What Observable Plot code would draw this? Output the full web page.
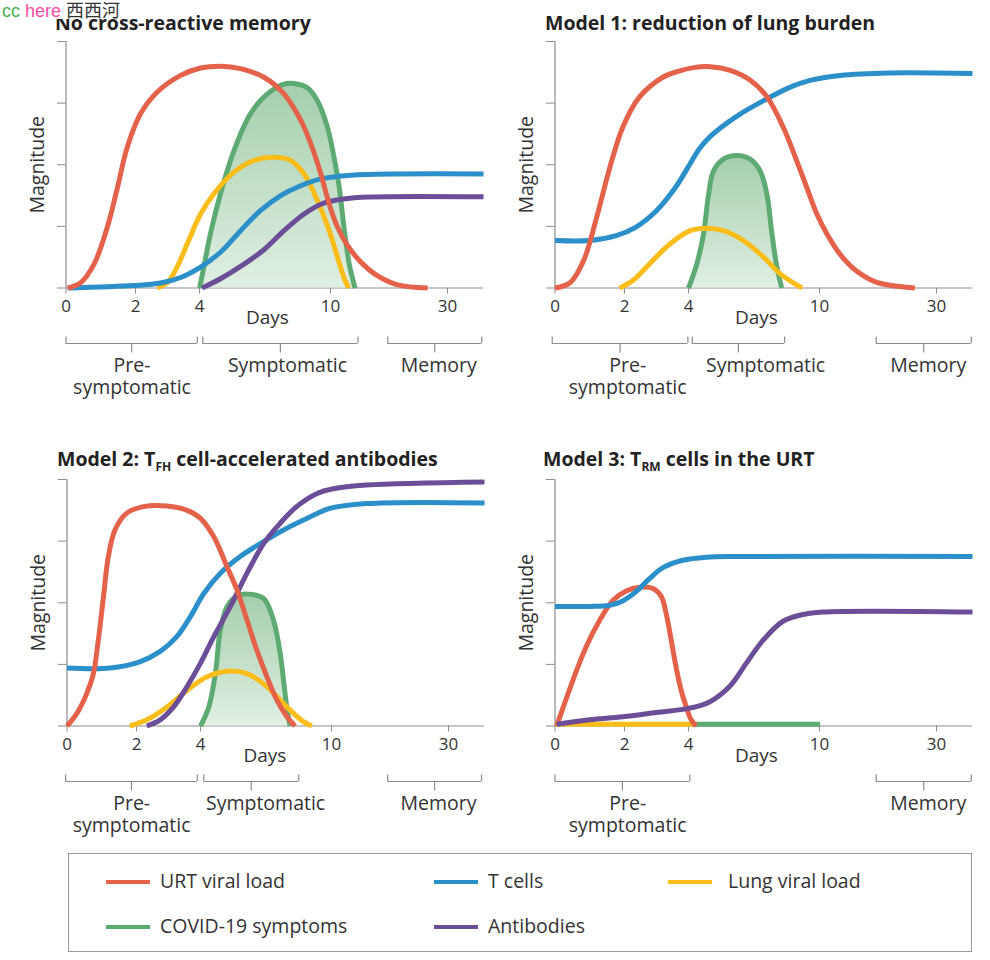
<!DOCTYPE html>
<html><head><meta charset="utf-8">
<script src="https://cdn.jsdelivr.net/npm/d3@7"></script>
<script src="https://cdn.jsdelivr.net/npm/@observablehq/plot@0.6"></script>
<style>
body{margin:0;background:#fff;}
#root{position:relative;width:990px;height:960px;background:#fff;font-family:"Open Sans",sans-serif;overflow:hidden;}
.panel{position:absolute;}
.panel text{fill:#333;}
.legend-item{position:absolute;font-size:19.5px;color:#333;line-height:1;white-space:nowrap;font-family:"Open Sans",sans-serif;}
.swatch{position:absolute;height:4px;width:44px;}
</style></head><body><div id="root"></div>
<script>
// ---------- tick labels / axes ----------
const dayTicks = [0, 2, 4, 10, 30];
const magnitudeTicks = [0, 1, 2, 3, 4];
const seriesNames = ["URT viral load", "T cells", "Lung viral load", "COVID-19 symptoms", "Antibodies"];
const seriesKeys = ["urt", "tcells", "lung", "symptoms", "antibodies"];
const panelTitles = ["No cross-reactive memory", "Model 1: reduction of lung burden", "Model 2: T|FH| cell-accelerated antibodies", "Model 3: T|RM| cells in the URT"];

// ---------- data: [day, magnitude] ----------
// Panel A: No cross-reactive memory
const noMemory_urt = [[0.05,0],[0.43,0.09],[0.81,0.39],[1.19,0.99],[1.48,1.63],[1.76,2.28],[2.16,2.83],[2.68,3.18],[3.41,3.45],[4.05,3.57],[4.96,3.6],[5.88,3.56],[6.95,3.42],[7.87,3.15],[8.64,2.72],[9.1,2.34],[9.56,1.85],[9.94,1.36],[11.2,0.99],[12.9,0.69],[15.2,0.42],[18.0,0.2],[21.5,0.05],[26.6,0]];
const noMemory_tcells = [[0.05,0],[1.95,0.04],[2.78,0.08],[3.41,0.17],[4.05,0.34],[4.96,0.58],[5.88,0.93],[6.8,1.26],[7.72,1.5],[8.64,1.66],[9.56,1.77],[13.5,1.83],[22,1.85],[36,1.85]];
const noMemory_lung = [[2.68,0],[3.0,0.09],[3.3,0.34],[3.61,0.71],[4.05,1.2],[4.66,1.53],[5.58,1.88],[6.5,2.07],[7.41,2.12],[8.18,2.07],[8.79,1.85],[9.4,1.42],[9.94,0.93],[11.2,0.5],[12.3,0.17],[13.1,0]];
const noMemory_symptoms = [[4.0,0],[4.2,0.34],[4.5,0.88],[4.96,1.53],[5.58,2.23],[6.34,2.83],[7.11,3.15],[7.87,3.31],[8.33,3.32],[8.94,3.25],[9.4,3.04],[9.86,2.61],[10.6,2.12],[11.5,1.63],[12.3,0.99],[13.2,0.39],[14.2,0]];
const noMemory_antibodies = [[4.12,0],[4.96,0.15],[5.88,0.35],[6.95,0.62],[7.87,0.93],[8.79,1.2],[9.56,1.36],[11.2,1.43],[14.6,1.47],[36,1.48]];
const noMemory_phases = [
  {label: "Pre-\nsymptomatic", start: 0, end: 3.93, labelAt: 1.9},
  {label: "Symptomatic", start: 4.15, end: 14.7, labelAt: 8.03},
  {label: "Memory", start: 19.8, end: 35.7, labelAt: 28.5}];

// Panel B: Model 1
const model1_urt = [[0,0],[0.44,0.09],[0.82,0.44],[1.2,1.15],[1.58,1.96],[1.95,2.61],[2.47,3.1],[3.2,3.42],[3.7,3.52],[4.3,3.58],[5.0,3.59],[5.91,3.53],[6.83,3.37],[7.6,3.1],[8.35,2.6],[8.96,2.06],[9.42,1.63],[9.88,1.2],[11.25,0.88],[13.5,0.55],[16.4,0.27],[19.8,0.09],[26.3,0]];
const model1_tcells = [[0,0.77],[1.0,0.77],[1.76,0.85],[2.33,0.98],[2.99,1.25],[3.59,1.63],[4.08,2.02],[4.5,2.26],[5,2.46],[6.22,2.79],[7.44,3.04],[8.66,3.26],[9.57,3.37],[13.5,3.45],[22,3.49],[36,3.48]];
const model1_lung = [[1.86,0],[2.26,0.12],[2.78,0.39],[3.41,0.71],[4.08,0.93],[4.84,0.97],[5.6,0.93],[6.52,0.77],[7.44,0.5],[8.2,0.23],[9.2,0]];
const model1_symptoms = [[4.0,0],[4.38,0.39],[4.69,0.88],[4.92,1.52],[5.15,1.9],[5.6,2.09],[6.21,2.15],[6.82,2.09],[7.28,1.9],[7.59,1.52],[7.82,0.88],[8.05,0.34],[8.27,0]];
const model1_phases = [
  {label: "Pre-\nsymptomatic", start: -0.08, end: 3.98, labelAt: 2.1},
  {label: "Symptomatic", start: 4.17, end: 8.4, labelAt: 7.53},
  {label: "Memory", start: 19.7, end: 35.8, labelAt: 28.6}];

// Panel C: Model 2
const model2_urt = [[0,0],[0.29,0.21],[0.57,0.53],[0.76,0.85],[0.9,1.39],[1.05,2.1],[1.19,2.75],[1.38,3.18],[1.71,3.45],[2.21,3.56],[2.95,3.57],[3.58,3.5],[4.0,3.37],[4.61,3.07],[5.22,2.58],[5.67,2.21],[6.13,1.72],[6.58,1.23],[7.04,0.8],[7.5,0.42],[7.96,0.15],[8.33,0]];
const model2_tcells = [[0,0.94],[1.24,0.94],[2.1,1.04],[2.74,1.21],[3.26,1.45],[3.68,1.77],[4.15,2.15],[4.91,2.48],[5.82,2.75],[6.74,2.96],[7.8,3.18],[9.01,3.39],[9.92,3.53],[16,3.61],[36,3.62]];
const model2_lung = [[1.81,0],[2.32,0.1],[2.95,0.31],[3.58,0.58],[4.3,0.8],[5.22,0.89],[6.13,0.85],[7.04,0.64],[7.95,0.31],[8.71,0.07],[9.1,0]];
const model2_symptoms = [[4.0,0],[4.38,0.31],[4.68,0.85],[4.91,1.56],[5.22,1.94],[5.67,2.11],[6.2,2.14],[6.89,2.07],[7.34,1.72],[7.65,1.18],[7.8,0.75],[7.95,0.31],[8.1,0]];
const model2_antibodies = [[2.32,0],[2.74,0.1],[3.16,0.31],[3.58,0.64],[4.0,1.02],[4.61,1.45],[5.37,1.94],[6.13,2.48],[6.89,2.96],[7.65,3.29],[8.4,3.56],[9.32,3.77],[10.3,3.85],[16,3.91],[36,3.96]];
const model2_phases = [
  {label: "Pre-\nsymptomatic", start: -0.04, end: 3.9, labelAt: 1.86},
  {label: "Symptomatic", start: 4.15, end: 8.5, labelAt: 6.98},
  {label: "Memory", start: 19.6, end: 35.5, labelAt: 28.3}];

// Panel D: Model 3
const model3_urt = [[0.05,0],[0.24,0.31],[0.52,0.75],[0.9,1.29],[1.29,1.72],[1.67,2.04],[2.05,2.19],[2.47,2.25],[2.89,2.23],[3.15,2.1],[3.3,1.83],[3.46,1.39],[3.61,0.96],[3.77,0.58],[3.93,0.31],[4.12,0.1],[4.35,0]];
const model3_tcells = [[0,1.94],[1,1.94],[1.57,1.96],[1.95,2.03],[2.36,2.18],[2.78,2.39],[3.2,2.57],[3.82,2.69],[4.81,2.74],[6.34,2.75],[36,2.75]];
const model3_lung = [[0,0.03],[4.2,0.03]];
const model3_symptoms = [[4.2,0.03],[10.1,0.03]];
const model3_antibodies = [[0.05,0.03],[1,0.1],[1.95,0.15],[2.99,0.22],[4.05,0.29],[4.96,0.39],[5.88,0.64],[6.65,1.02],[7.41,1.39],[8.33,1.7],[9.25,1.81],[10.6,1.85],[36,1.85]];
const model3_phases = [
  {label: "Pre-\nsymptomatic", start: 0, end: 4.06, labelAt: 2.1},
  {label: "Memory", start: 19.7, end: 35.8, labelAt: 28.6}];

// ---------- styles / layout ----------
const colors = {urt: "#e4624a", tcells: "#2b8fc9", lung: "#fbbd1a", symptoms: "#5eaa73", antibodies: "#6b4e97"};
// broken (piecewise) day axis: where each day breakpoint sits along the axis, as a fraction of its length
const dayDomain = [0, 2, 4, 10, 30, 36];
const axisBreaks = [0, 0.1665, 0.3198, 0.6335, 0.9138, 1];
const dayAxis = d3.scaleLinear(dayDomain, axisBreaks);
const plotX = [65.5, 483];
const magDomain = [0, 4];
const magRange = [287.5, 41];

const panels = [
  {key: "a", left: 0, top: 0, daysAt: 7.11, order: ["symptoms","lung","tcells","antibodies","urt"],
   series: {urt: noMemory_urt, tcells: noMemory_tcells, lung: noMemory_lung, symptoms: noMemory_symptoms, antibodies: noMemory_antibodies}, phases: noMemory_phases},
  {key: "b", left: 489, top: 0, daysAt: 7.11, order: ["symptoms","lung","tcells","urt"],
   series: {urt: model1_urt, tcells: model1_tcells, lung: model1_lung, symptoms: model1_symptoms}, phases: model1_phases},
  {key: "c", left: 1, top: 438, daysAt: 6.95, order: ["symptoms","lung","tcells","antibodies","urt"],
   series: {urt: model2_urt, tcells: model2_tcells, lung: model2_lung, symptoms: model2_symptoms, antibodies: model2_antibodies}, phases: model2_phases},
  {key: "d", left: 489, top: 438, daysAt: 7.11, order: ["lung","symptoms","urt","tcells","antibodies"],
   series: {urt: model3_urt, tcells: model3_tcells, lung: model3_lung, symptoms: model3_symptoms, antibodies: model3_antibodies}, phases: model3_phases, flatSymptoms: true}
];
const titlePos = [[55, 30], [545, 30], [57, 466], [543, 466]];

const root = document.getElementById("root");

function makePanel(cfg) {
  const ys = d3.scaleLinear(magDomain, magRange); // helper mirroring the plot's y scale, for annotation rows below the axis
  const yCap = ys.invert(336.5), yLine = ys.invert(343), yTick = ys.invert(352.5);
  const yLabel = ys.invert(356.5), yDays = ys.invert(309.5);
  const mid = p => (dayAxis(p.start) + dayAxis(p.end)) / 2;
  const gid = "symgrad-" + cfg.key;
  const X = d => dayAxis(d[0]), Y = d => d[1];
  const curve = "catmull-rom";
  const marks = [
    () => {
      const defs = d3.create("svg:defs");
      const g = defs.append("linearGradient").attr("id", gid).attr("x1", 0).attr("y1", 0).attr("x2", 0).attr("y2", 1);
      g.append("stop").attr("offset", "0%").attr("stop-color", "#a4ceac");
      g.append("stop").attr("offset", "100%").attr("stop-color", "#e0efe3");
      return defs.node();
    },
    Plot.ruleX([0], {strokeWidth: 1.2}),
    Plot.ruleY([0], {strokeWidth: 1.2})
  ];
  for (const k of cfg.order) {
    const data = cfg.series[k];
    if (!data) continue;
    if (k === "symptoms" && !cfg.flatSymptoms) {
      marks.push(Plot.areaY(data, {x: X, y: Y, fill: `url(#${gid})`, curve}));
    }
    marks.push(Plot.line(data, {x: X, y: Y, stroke: colors[k], strokeWidth: 5, curve, strokeLinecap: "butt"}));
  }
  const ph = cfg.phases;
  marks.push(
    Plot.ruleY(ph, {y: () => yLine, x1: p => dayAxis(p.start), x2: p => dayAxis(p.end), strokeWidth: 1.2}),
    Plot.ruleX(ph, {x: p => dayAxis(p.start), y1: () => yCap, y2: () => yLine, strokeWidth: 1.2}),
    Plot.ruleX(ph, {x: p => dayAxis(p.end), y1: () => yCap, y2: () => yLine, strokeWidth: 1.2}),
    Plot.ruleX(ph, {x: mid, y1: () => yLine, y2: () => yTick, strokeWidth: 1.2}),
    Plot.text(ph, {x: p => dayAxis(p.labelAt), y: () => yLabel, text: "label", lineAnchor: "top", lineHeight: 1.1, fontSize: 19.5, textAnchor: "middle"}),
    Plot.text(["Days"], {x: () => dayAxis(cfg.daysAt), y: () => yDays, text: d => d, lineAnchor: "top", fontSize: 19, textAnchor: "middle"}),
    Plot.text(["Magnitude"], {frameAnchor: "left", y: () => (magDomain[0] + magDomain[1]) / 2, text: d => d, dx: -28.5, rotate: -90, fontSize: 19.5, textAnchor: "middle"})
  );
  const svg = Plot.plot({
    width: 490, height: 400,
    marginLeft: plotX[0], marginRight: 490 - plotX[1], marginTop: magRange[1], marginBottom: 400 - magRange[0],
    x: {domain: [0, 1], range: plotX, ticks: dayTicks.map(d => dayAxis(d)), tickSize: 6, tickPadding: 6,
        tickFormat: p => String(Math.round(dayAxis.invert(p))), label: null},
    y: {domain: magDomain, range: magRange, ticks: magnitudeTicks, tickSize: 8.5, tickFormat: () => "", label: null},
    style: {fontFamily: "'Open Sans', sans-serif", fontSize: "17px", color: "#8c8c8c", background: "transparent", overflow: "visible"},
    marks
  });
  const wrap = document.createElement("div");
  wrap.className = "panel";
  wrap.style.left = cfg.left + "px";
  wrap.style.top = cfg.top + "px";
  wrap.appendChild(svg);
  root.appendChild(wrap);
}
panels.forEach(makePanel);

// ---------- titles (with subscripts) ----------
const tsvg = d3.select(root).append("svg").attr("width", 990).attr("height", 960)
  .style("position", "absolute").style("left", 0).style("top", 0).style("pointer-events", "none");
panelTitles.forEach((t, i) => {
  const [x, y] = titlePos[i];
  const txt = tsvg.append("text").attr("x", x).attr("y", y)
    .attr("font-family", "'Open Sans', sans-serif").attr("font-weight", 700).attr("font-size", 19.5).attr("fill", "#222");
  const parts = t.split("|");
  parts.forEach((p, j) => {
    if (j % 2 === 1) txt.append("tspan").attr("dy", 5).attr("font-size", 12).text(p);
    else txt.append("tspan").attr("dy", j ? -5 : 0).text(p);
  });
});

// ---------- legend ----------
const legend = document.createElement("div");
legend.style.cssText = "position:absolute;left:68px;top:853px;width:904px;height:99px;border:1px solid #9a9a9a;box-sizing:border-box;background:#fff;";
root.appendChild(legend);
const legendSlots = [[106, 882], [434, 882], [668, 882], [106, 927], [434, 927]];
const legendOrder = ["urt", "tcells", "lung", "symptoms", "antibodies"];
legendOrder.forEach((k, i) => {
  const [sx, sy] = legendSlots[i];
  const sw = document.createElement("div");
  sw.className = "swatch";
  sw.style.left = sx + "px"; sw.style.top = (sy - 2) + "px"; sw.style.background = colors[k];
  root.appendChild(sw);
  const lb = document.createElement("div");
  lb.className = "legend-item";
  lb.style.left = (sx + (i % 3 === 2 ? 60 : 54)) + "px"; lb.style.top = (sy - 11) + "px";
  lb.textContent = seriesNames[seriesKeys.indexOf(k)];
  root.appendChild(lb);
});

// ---------- watermark ----------
const wm = document.createElement("div");
wm.style.cssText = "position:absolute;left:0;top:0;height:19px;padding:0 3px 0 2px;background:#fff;font-size:18px;line-height:19px;white-space:nowrap;font-family:'Liberation Sans',sans-serif;";
wm.innerHTML = '<span style="color:#4caf50">cc</span> <span style="color:#ff4fa3">here</span> <span style="color:#333;font-family:\'Noto Sans CJK SC\'">西西河</span>';
root.appendChild(wm);
</script></body></html>
